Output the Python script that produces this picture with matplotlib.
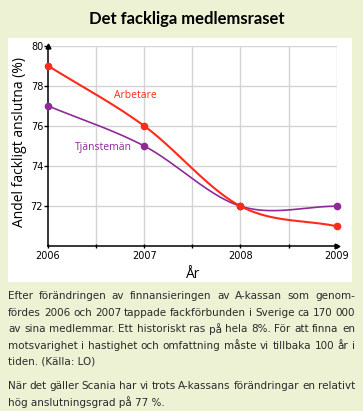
import matplotlib
matplotlib.use("Agg")
import matplotlib.pyplot as plt
from matplotlib.patches import Rectangle
import numpy as np

# data
years = [2006, 2007, 2008, 2009]
arbetare = [79, 76, 72, 71]
tjansteman = [77, 75, 72, 72]
yticks = [72, 74, 76, 78, 80]
xticks = [2006, 2007, 2008, 2009]

title = "Det fackliga medlemsraset"
# (text, justified?) for each line of the caption
body_lines = [
    ("Efter förändringen av finnansieringen av  A-kassan som genom-", True),
    ("fördes 2006 och 2007 tappade fackförbunden i Sverige ca 170 000", True),
    ("av sina medlemmar. Ett historiskt ras på hela 8%. För att finna en", True),
    ("motsvarighet i hastighet och omfattning måste vi tillbaka 100 år i", True),
    ("tiden. (Källa: LO)", False),
    ("När det gäller Scania har vi trots A-kassans förändringar en relativt", True),
    ("hög anslutningsgrad på 77 %.", False),
]

RED = "#ff2a1a"
PURPLE = "#8e2a98"
BG = "#eef2d4"
BODY_FONT = ["DejaVu Sans"]

W, H = 363, 411
plt.rcParams["font.family"] = ["Open Sans", "DejaVu Sans"]


def fx(px):
    return px / W


def fy(py):
    return 1 - py / H


def smooth(xs, ys, n=60):
    # cardinal (catmull-rom) curve through the points, like the original chart
    xs = np.asarray(xs, float)
    ys = np.asarray(ys, float)
    m = np.zeros_like(ys)
    m[1:-1] = (ys[2:] - ys[:-2]) / (xs[2:] - xs[:-2])
    m[0] = (ys[1] - ys[0]) / (xs[1] - xs[0])
    m[-1] = (ys[-1] - ys[-2]) / (xs[-1] - xs[-2])
    ox, oy = [], []
    for i in range(len(xs) - 1):
        h = xs[i + 1] - xs[i]
        t = np.linspace(0, 1, n)
        h00 = 2 * t**3 - 3 * t**2 + 1
        h10 = t**3 - 2 * t**2 + t
        h01 = -2 * t**3 + 3 * t**2
        h11 = t**3 - t**2
        ox.append(xs[i] + t * h)
        oy.append(h00 * ys[i] + h10 * h * m[i] + h01 * ys[i + 1] + h11 * h * m[i + 1])
    return np.concatenate(ox), np.concatenate(oy)


fig = plt.figure(figsize=(W / 100, H / 100), dpi=100)
fig.patch.set_facecolor(BG)

# white panel behind the chart
fig.patches.append(Rectangle((fx(8), fy(282)), fx(352) - fx(8), fy(38) - fy(282),
                             transform=fig.transFigure, facecolor="white",
                             edgecolor="none", zorder=0))

ax = fig.add_axes([fx(48), fy(246.3), fx(336.7) - fx(48), fy(45.7) - fy(246.3)])
ax.set_zorder(2)
ax.set_facecolor("none")
ax.set_xlim(2006, 2009)
ax.set_ylim(70, 80)
ax.set_xticks(xticks)
ax.set_xticks([2006.5, 2007.5, 2008.5], minor=True)
ax.set_yticks(yticks)
ax.set_xticklabels([str(x) for x in xticks], fontsize=7, family="DejaVu Sans")
ax.set_yticklabels([str(y) for y in yticks], fontsize=7, family="DejaVu Sans")
ax.tick_params(axis="x", length=3, width=1, direction="inout", pad=2)
ax.tick_params(axis="x", which="minor", length=3, width=1, direction="inout")
ax.tick_params(axis="y", length=3, width=1, direction="out", pad=0.5)
for s in ["top", "right"]:
    ax.spines[s].set_visible(False)
for s in ["left", "bottom"]:
    ax.spines[s].set_linewidth(1.1)

for gx in [2006.5, 2007, 2007.5, 2008, 2008.5, 2009]:
    ax.axvline(gx, color="#d4d4d4", lw=1, zorder=0)
for gy in yticks:
    ax.axhline(gy, color="#d4d4d4", lw=1, zorder=0)

# arrowheads on the axes
ax.plot(1, 0, ">k", transform=ax.transAxes, clip_on=False, markersize=3.5)
ax.plot(0, 1, "^k", transform=ax.transAxes, clip_on=False, markersize=3.5)

sx, sy = smooth(years, tjansteman)
ax.plot(sx, sy, color=PURPLE, lw=1.2, zorder=3)
ax.plot(years, tjansteman, "o", color=PURPLE, markersize=4.5, zorder=4, clip_on=False)
sx, sy = smooth(years, arbetare)
ax.plot(sx, sy, color=RED, lw=1.5, zorder=3)
ax.plot(years, arbetare, "o", color=RED, markersize=4.5, zorder=4, clip_on=False)

ax.text(2006.905, 77.5, "Arbetare", color=RED, fontsize=7.5, ha="center", va="center")
ax.text(2006.575, 74.95, "Tjänstemän", color=PURPLE, fontsize=7.5, ha="center", va="center")

fig.text(fx(187), fy(19), title, fontsize=12, fontweight="bold", ha="center",
         va="center", family=["Lato", "DejaVu Sans"])
fig.text(fx(20), fy(142), "Andel fackligt anslutna (%)", fontsize=10, rotation=90,
         ha="center", va="center")
fig.text(fx(193), fy(275), "År", fontsize=10, ha="center", va="center")

# caption, justified between x=8 and x=355 like the original
renderer = fig.canvas.get_renderer()
left, right = 8, 355
MIN_GAP = 3.0


def word_widths(line, size):
    ws = [w for w in line.split(" ") if w]
    out = []
    for w in ws:
        t = fig.text(0, 0, w, fontsize=size, family=BODY_FONT)
        out.append(t.get_window_extent(renderer).width)
        t.remove()
    return ws, out


# size the caption font so the tightest line (line 2) fills the width
ref_line = body_lines[1][0]
body_size = 8.0
for _ in range(6):
    ws, wd = word_widths(ref_line, body_size)
    body_size *= (right - left - MIN_GAP * (len(ws) - 1)) / sum(wd)

line_y = [296, 312.5, 329, 345.5, 361.5, 386, 402]
for (line, justify), ypx in zip(body_lines, line_y):
    kw = dict(fontsize=body_size, ha="left", va="center", color="#2a2a2a",
              family=BODY_FONT)
    if not justify:
        fig.text(fx(left), fy(ypx), line, **kw)
        continue
    words, widths = word_widths(line, body_size)
    gap = max((right - left - sum(widths)) / (len(words) - 1), 1.5)
    xpos = left
    for w, wd in zip(words, widths):
        fig.text(fx(xpos), fy(ypx), w, **kw)
        xpos += wd + gap

fig.savefig("out.png", dpi=100, facecolor=BG)
